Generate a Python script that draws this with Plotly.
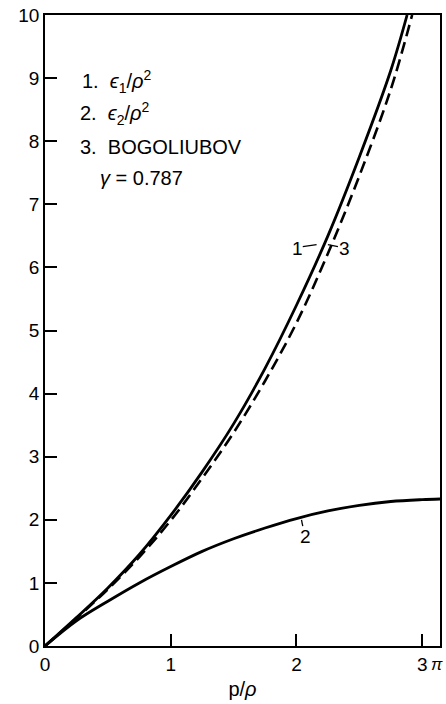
import plotly.graph_objects as go
import math

# Data
p1 = [0, 0.25, 0.5, 0.75, 1.0, 1.25, 1.5, 1.75, 2.0, 2.25, 2.5, 2.75, 2.88]
eps1 = [0, 0.45, 0.92, 1.45, 2.07, 2.76, 3.52, 4.40, 5.40, 6.50, 7.75, 9.12, 10.0]

p2 = [0, 0.25, 0.5, 0.75, 1.0, 1.25, 1.5, 1.75, 2.0, 2.25, 2.5, 2.75, 3.0, 3.1416]
eps2 = [0, 0.40, 0.71, 1.00, 1.26, 1.50, 1.70, 1.87, 2.02, 2.14, 2.23, 2.29, 2.32, 2.33]

p3 = [0, 0.25, 0.5, 0.75, 1.0, 1.25, 1.5, 1.75, 2.0, 2.25, 2.5, 2.75, 2.92]
bogo = [0, 0.44, 0.90, 1.41, 1.99, 2.66, 3.38, 4.20, 5.12, 6.22, 7.45, 8.82, 10.0]

x_ticks = [0, 1, 2, 3]
x_tick_labels = ["0", "1", "2", "3"]
y_ticks = list(range(0, 11))
y_tick_labels = [str(v) for v in y_ticks]

FONT = "Liberation Sans"
L, R, T, B = 45, 4, 15, 58
W, H = 446, 704
PW, PH = W - L - R, H - T - B

fig = go.Figure()
fig.add_trace(go.Scatter(x=p1, y=eps1, mode="lines", line=dict(color="black", width=2.8, shape="spline"), showlegend=False))
fig.add_trace(go.Scatter(x=p2, y=eps2, mode="lines", line=dict(color="black", width=2.8, shape="spline"), showlegend=False))
fig.add_trace(go.Scatter(x=p3, y=bogo, mode="lines", line=dict(color="black", width=2.6, dash="12px,6px", shape="spline"), showlegend=False))

fig.update_layout(
    width=W, height=H,
    margin=dict(l=L, r=R, t=T, b=B),
    paper_bgcolor="white", plot_bgcolor="white",
    font=dict(family=FONT, size=19, color="black"),
    xaxis=dict(range=[0, math.pi], tickvals=x_ticks, ticktext=x_tick_labels,
               ticks="inside", ticklen=12, tickwidth=1.5, tickcolor="black",
               showline=True, linecolor="black", linewidth=1.6, mirror=True,
               showgrid=False, zeroline=False, tickfont=dict(size=19),
               title=dict(text="p/<i>ρ</i>", font=dict(size=20), standoff=8)),
    yaxis=dict(range=[0, 10], tickvals=y_ticks, ticktext=y_tick_labels,
               ticks="inside", ticklen=12, tickwidth=1.5, tickcolor="black",
               showline=True, linecolor="black", linewidth=1.6, mirror=True,
               showgrid=False, zeroline=False, tickfont=dict(size=19)),
)

# pi superscript at the right end of x axis
fig.add_annotation(x=math.pi, y=0, xref="x", yref="y", text="<i>π</i>", showarrow=False,
                   xanchor="center", yanchor="top", yshift=-7, xshift=-3, font=dict(size=17))

# legend text block (pixel positions converted to plot-area fractions)
legend_lines = [
    ("1.  <i>ϵ</i><sub>1</sub>/<i>ρ</i><sup>2</sup>", 80, 82),
    ("2.  <i>ϵ</i><sub>2</sub>/<i>ρ</i><sup>2</sup>", 78, 114),
    ("3.  BOGOLIUBOV", 78, 147),
    ("<i>γ</i> = 0.787", 98, 178),
]
for txt, px, py in legend_lines:
    fig.add_annotation(x=(px - L) / PW, y=1 - (py - T) / PH, xref="paper", yref="paper", text=txt,
                       showarrow=False, xanchor="left", yanchor="middle", font=dict(size=20))

# Curve labels
fig.add_annotation(x=2.01, y=6.3, text="1", showarrow=False, font=dict(size=19))
fig.add_annotation(x=2.38, y=6.3, text="3", showarrow=False, font=dict(size=19))
fig.add_shape(type="line", x0=2.05, x1=2.16, y0=6.33, y1=6.36, line=dict(color="black", width=1.3))
fig.add_shape(type="line", x0=2.25, x1=2.33, y0=6.36, y1=6.33, line=dict(color="black", width=1.3))
fig.add_annotation(x=2.07, y=1.73, text="2", showarrow=False, font=dict(size=19))
fig.add_shape(type="line", x0=2.04, x1=2.05, y0=2.0, y1=1.9, line=dict(color="black", width=1.3))

fig.write_html("out.html")
